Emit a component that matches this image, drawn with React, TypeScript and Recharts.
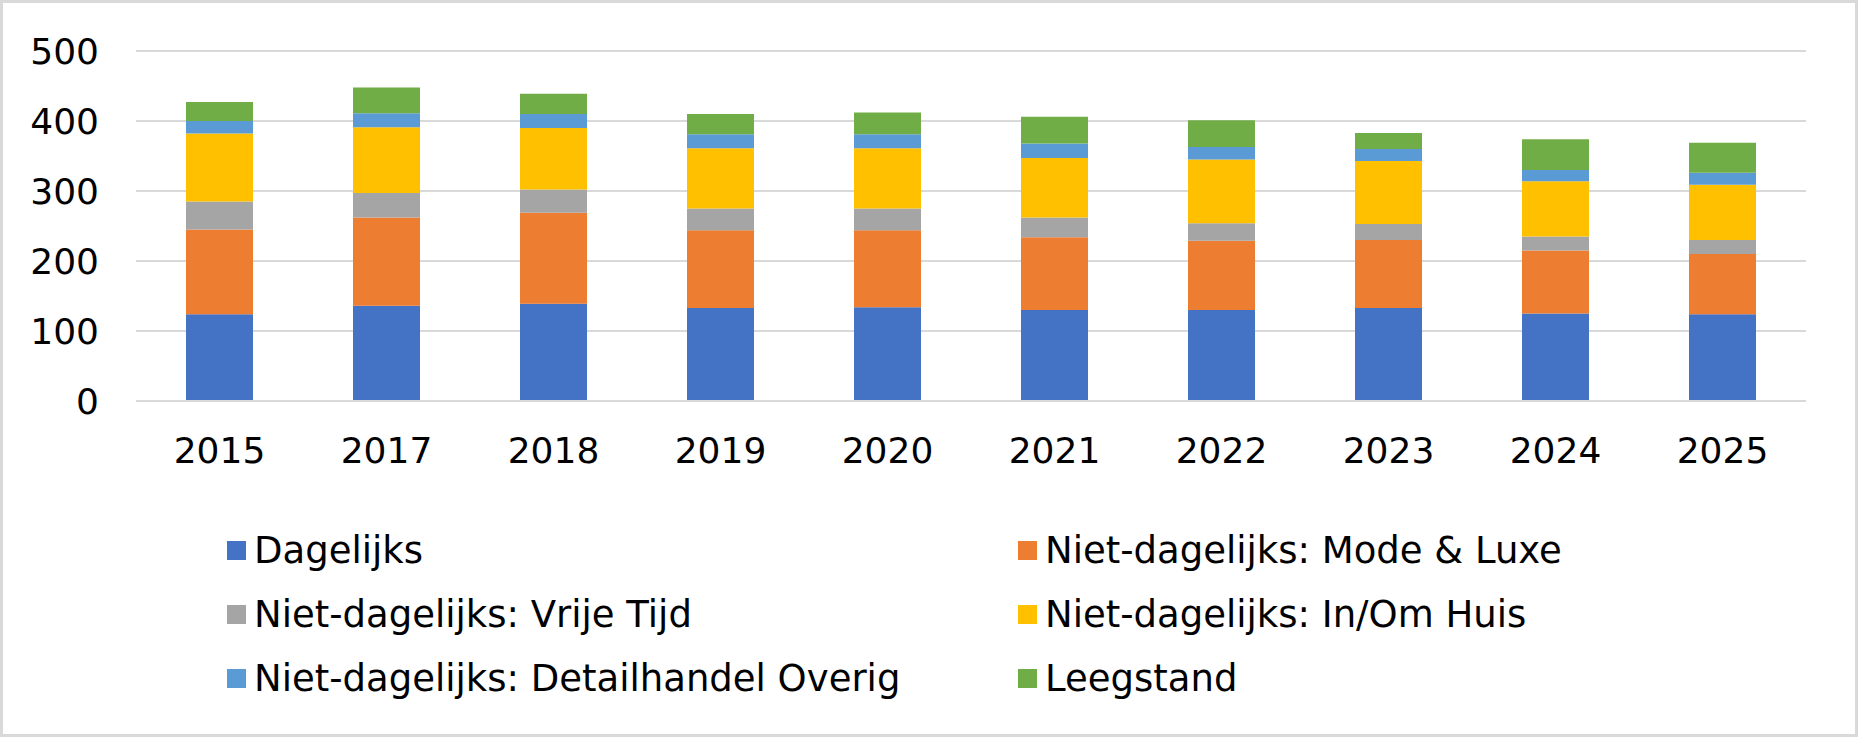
import React from "react";
import { BarChart, Bar, XAxis, YAxis, CartesianGrid, Legend } from "recharts";

const years = ["2015", "2017", "2018", "2019", "2020", "2021", "2022", "2023", "2024", "2025"];
const dagelijks = [124, 136, 139, 133, 134, 130, 130, 133, 125, 124];
const modeLuxe = [121, 126, 130, 111, 110, 104, 99, 97, 90, 86];
const vrijeTijd = [40, 35, 33, 31, 31, 28, 25, 23, 20, 20];
const inOmHuis = [97, 94, 88, 86, 86, 85, 91, 90, 79, 79];
const overig = [18, 20, 20, 20, 20, 21, 18, 17, 16, 17];
const leegstand = [27, 37, 29, 29, 31, 38, 38, 23, 44, 43];
const yTicks = [0, 100, 200, 300, 400, 500];

const series = [
  { key: "dagelijks", name: "Dagelijks", color: "#4472C4", values: dagelijks },
  { key: "mode", name: "Niet-dagelijks: Mode & Luxe", color: "#ED7D31", values: modeLuxe },
  { key: "vrije", name: "Niet-dagelijks: Vrije Tijd", color: "#A5A5A5", values: vrijeTijd },
  { key: "inom", name: "Niet-dagelijks: In/Om Huis", color: "#FFC000", values: inOmHuis },
  { key: "overig", name: "Niet-dagelijks: Detailhandel Overig", color: "#5B9BD5", values: overig },
  { key: "leeg", name: "Leegstand", color: "#70AD47", values: leegstand },
];

const data = years.map((year, i) => {
  const row: any = { year };
  series.forEach((s) => {
    row[s.key] = s.values[i];
  });
  return row;
});

const FONT = "'DejaVu Sans', Verdana, sans-serif";

function LegendGrid() {
  return (
    <div style={{ position: "relative", width: 1858, height: 200, fontFamily: FONT }}>
      {series.map((s, i) => {
        const col = i % 2;
        const row = Math.floor(i / 2);
        return (
          <div
            key={s.key}
            style={{
              position: "absolute",
              left: col === 0 ? 227 : 1018,
              top: row * 64,
              height: 40,
              display: "flex",
              alignItems: "center",
              whiteSpace: "nowrap",
            }}
          >
            <span style={{ width: 19, height: 19, background: s.color, display: "inline-block" }} />
            <span style={{ marginLeft: 8, fontSize: 37, color: "#000" }}>{s.name}</span>
          </div>
        );
      })}
    </div>
  );
}

export default function App() {
  return (
    <div
      style={{
        position: "absolute",
        left: 0,
        top: 0,
        width: 1858,
        height: 737,
        background: "#fff",
        border: "3px solid #d9d9d9",
        boxSizing: "border-box",
        overflow: "hidden",
      }}
    >
      <div style={{ position: "absolute", left: -3, top: -3 }}>
        <BarChart
          width={1858}
          height={737}
          data={data}
          margin={{ top: 51, right: 52, bottom: 0, left: 0 }}
        >
          <CartesianGrid vertical={false} stroke="#d9d9d9" strokeWidth={2} />
          <XAxis
            dataKey="year"
            height={336}
            axisLine={{ stroke: "#d9d9d9", strokeWidth: 2 }}
            tickLine={false}
            tickSize={0}
            tickMargin={36}
            tick={{ fill: "#000", fontSize: 36, fontFamily: FONT }}
          />
          <YAxis
            width={136}
            domain={[0, 500]}
            ticks={yTicks}
            axisLine={false}
            tickLine={false}
            tickSize={0}
            tickMargin={37}
            tick={{ fill: "#000", fontSize: 36, fontFamily: FONT }}
          />
          {series.map((s) => (
            <Bar
              key={s.key}
              dataKey={s.key}
              name={s.name}
              stackId="a"
              fill={s.color}
              barSize={67}
              isAnimationActive={false}
            />
          ))}
          <Legend
            layout="horizontal"
            verticalAlign="middle"
            align="center"
            wrapperStyle={{ position: "absolute", left: 0, top: 530, width: 1858, height: 200 }}
            content={() => <LegendGrid />}
          />
        </BarChart>
      </div>
    </div>
  );
}
